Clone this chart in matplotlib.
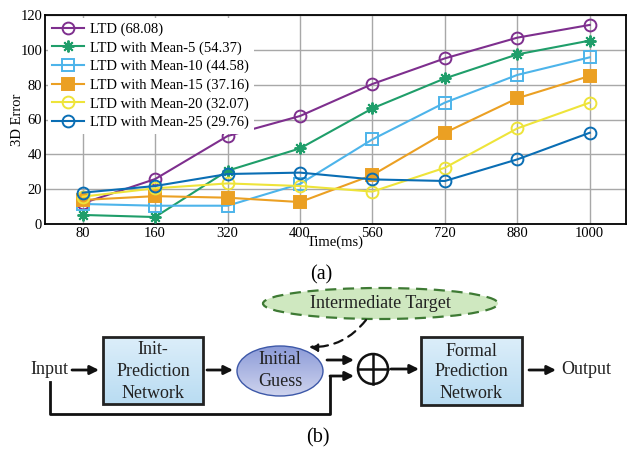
import numpy as np
import matplotlib
matplotlib.use("Agg")
import matplotlib.pyplot as plt
from matplotlib.patches import Rectangle, Ellipse, Circle

plt.rcParams['font.family'] = ['Liberation Serif', 'DejaVu Serif']

#-----data-----
times = ['80', '160', '320', '400', '560', '720', '880', '1000']
ltd = [11.9, 25.8, 50.5, 62.0, 80.4, 95.1, 107.0, 114.3]
mean5 = [5.2, 4.0, 30.6, 43.4, 66.4, 83.6, 97.4, 105.3]
mean10 = [11.5, 10.5, 10.5, 23.0, 48.6, 69.7, 85.6, 95.7]
mean15 = [13.8, 16.0, 15.1, 12.6, 28.1, 52.4, 72.2, 85.0]
mean20 = [15.7, 20.5, 23.3, 21.8, 18.6, 32.3, 54.9, 69.7]
mean25 = [18.0, 21.8, 28.7, 29.5, 25.6, 24.7, 37.1, 52.4]
labels = ['LTD (68.08)', 'LTD with Mean-5 (54.37)', 'LTD with Mean-10 (44.58)',
          'LTD with Mean-15 (37.16)', 'LTD with Mean-20 (32.07)', 'LTD with Mean-25 (29.76)']

series = [ltd, mean5, mean10, mean15, mean20, mean25]
colors = ['#7E2F8E', '#1F9E6A', '#4DB4EA', '#EBA023', '#EEE43A', '#0A6EB4']
markers = ['o', (8, 2, 0), 's', 's', 'o', 'o']
filled = [False, True, False, True, False, False]

fig = plt.figure(figsize=(6.27, 4.5), dpi=100)

#-----(a) line chart-----
ax = fig.add_axes([45/627, 1-224/450, 581/627, 209/450])
x = np.arange(len(times))
for s, c, m, f, lab in zip(series, colors, markers, filled, labels):
    ax.plot(x, s, color=c, lw=1.5, marker=m, ms=8.5, mew=1.4,
            mfc=c if f else 'none', mec=c, label=lab, zorder=3)
ax.set_xlim(-0.52, 7.5)
ax.set_ylim(0, 120)
ax.set_yticks(range(0, 121, 20))
ax.set_xticks(x)
ax.set_xticklabels(times)
ax.tick_params(labelsize=10.5, length=0, pad=2)
ax.grid(True, color='#A8A8A8', lw=1)
for sp in ax.spines.values():
    sp.set_linewidth(1.3)
ax.set_ylabel('3D Error', fontsize=10.5)
ax.yaxis.set_label_coords(-0.036, 0.5)
ax.set_xlabel('Time(ms)', fontsize=10.5, labelpad=-3)
leg = ax.legend(loc='upper left', fontsize=10.5, frameon=True, fancybox=False,
                edgecolor='none', framealpha=1, handlelength=2.2,
                labelspacing=0.36, borderaxespad=0.2, borderpad=0.3, handletextpad=0.4)

#-----(b) diagram-----
d = fig.add_axes([0, 0, 1, 1], zorder=-1)
d.set_xlim(0, 627)
d.set_ylim(450, 0)
d.axis('off')

fig.text(321/627, 1-275/450, '(a)', fontsize=14.5, ha='center', va='center')
fig.text(318/627, 1-438/450, '(b)', fontsize=14.5, ha='center', va='center')


def grad_fill(patch, c1, c2):
    # vertical gradient inside a patch
    d.add_patch(patch)
    x0, y0, x1, y1 = patch.get_extents().transformed(d.transData.inverted()).extents
    g = np.linspace(0, 1, 64)[:, None]
    a = np.array(matplotlib.colors.to_rgb(c1))
    b = np.array(matplotlib.colors.to_rgb(c2))
    img = a + (b - a) * g[..., None]
    im = d.imshow(np.repeat(img, 2, axis=1), extent=(min(x0, x1), max(x0, x1), max(y0, y1), min(y0, y1)),
                  aspect='auto', zorder=patch.get_zorder() - 0.1)
    im.set_clip_path(patch)
    d.set_xlim(0, 627)
    d.set_ylim(450, 0)


box1 = Rectangle((103, 337), 100, 67, fc='none', ec='#222222', lw=2, zorder=3)
grad_fill(box1, '#DCEEFA', '#B9DCF2')
box2 = Rectangle((421, 337), 101, 68, fc='none', ec='#222222', lw=2, zorder=3)
grad_fill(box2, '#DCEEFA', '#B9DCF2')
guess = Ellipse((280, 371), 86, 50, fc='none', ec='#3D58A8', lw=1, zorder=3)
grad_fill(guess, '#8C9BD8', '#CFD4EE')
target = Ellipse((380.5, 303.5), 235, 31, fc='#CFE8C0', ec='#3E7A34', lw=1.6,
                 ls=(0, (5, 3)), zorder=3)
d.add_patch(target)

txt = dict(fontsize=13, ha='center', va='center', zorder=5, color='#222222')
d.text(153, 350, 'Init-', **txt)
d.text(153, 371, 'Prediction', **txt)
d.text(153, 393, 'Network', **txt)
d.text(471, 351, 'Formal', **txt)
d.text(471, 372, 'Prediction', **txt)
d.text(471, 394, 'Network', **txt)
d.text(280, 360, 'Initial', **txt)
d.text(280, 382, 'Guess', **txt)
d.text(380, 304, 'Intermediate Target', **txt)
d.text(49, 370, 'Input', **txt)
d.text(586, 370, 'Output', **txt)

arr = dict(arrowstyle='-|>', color='#111111', lw=2, mutation_scale=13, shrinkA=0, shrinkB=0)
for (xa, ya), (xb, yb) in [((72, 370), (99, 370)), ((207, 370), (233, 370)),
                           ((327, 360), (354, 360)), ((330, 376), (354, 376)),
                           ((391, 369), (419, 369)), ((529, 370), (556, 370))]:
    d.annotate('', xy=(xb, yb), xytext=(xa, ya), arrowprops=arr, zorder=4)
d.plot([50, 50, 330, 330], [382, 414, 414, 376], color='#111111', lw=2, zorder=4)
d.annotate('', xy=(309, 347), xytext=(366, 320),
           arrowprops=dict(arrowstyle='-|>', color='#111111', lw=1.6, ls=(0, (4, 3)),
                           mutation_scale=12, shrinkA=0, shrinkB=0,
                           connectionstyle='arc3,rad=-0.25'), zorder=4)
d.add_patch(Circle((373, 369), 15, fc='white', ec='#111111', lw=1.8, zorder=4))
d.plot([358, 388], [369, 369], color='#111111', lw=1.8, zorder=5)
d.plot([373, 373], [354, 384], color='#111111', lw=1.8, zorder=5)

fig.savefig('out.png', dpi=100)
